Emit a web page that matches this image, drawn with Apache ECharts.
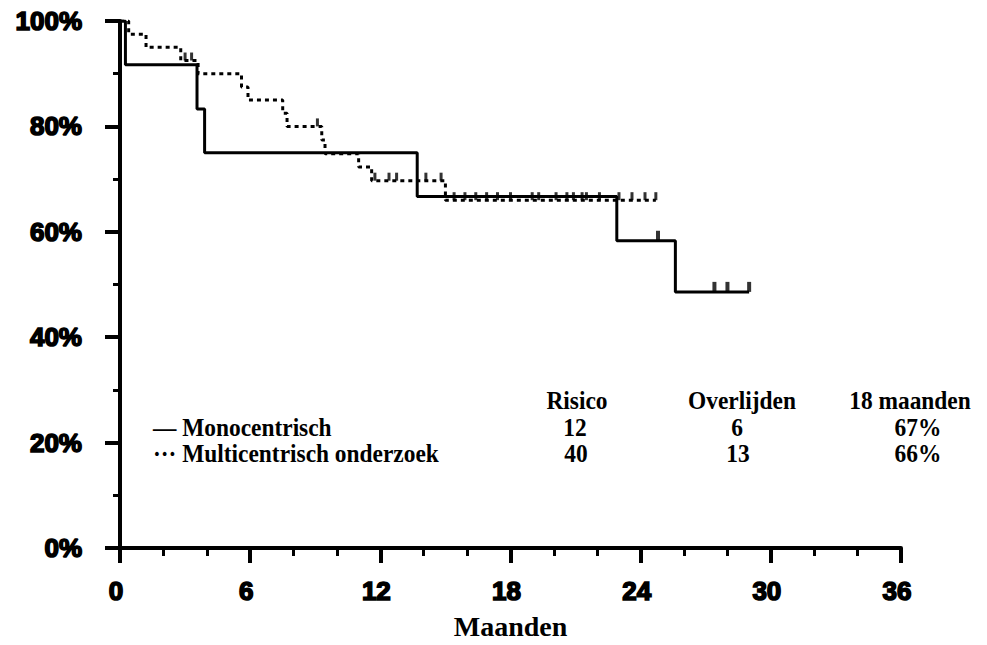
<!DOCTYPE html>
<html>
<head>
<meta charset="utf-8">
<script src="https://cdn.jsdelivr.net/npm/echarts@6/dist/echarts.min.js"></script>
<style>
html,body{margin:0;padding:0;background:#fff;}
#chart{width:987px;height:645px;}
</style>
</head>
<body>
<div id="chart"></div>
<script>
// Kaplan-Meier steps (months, % survival)
var monoTimes = [0, 0.25, 3.55, 3.9, 13.7, 22.9, 25.6, 29.0];
var monoSurv  = [100, 91.7, 83.3, 75.0, 66.7, 58.3, 48.6, 48.6];
var monoCensor = [24.8, 27.4, 28.0, 29.0];

var multiTimes = [0, 0.4, 1.2, 2.8, 3.6, 5.6, 5.9, 7.5, 7.7, 9.3, 9.45, 11.0, 11.6, 15.0, 24.7];
var multiSurv  = [100, 97.5, 95.0, 92.5, 90.0, 87.5, 85.0, 82.5, 80.0, 77.4, 74.8, 72.3, 69.7, 66.0, 66.0];
var multiCensor = [3.0, 3.3, 9.1, 11.75, 12.4, 12.75, 14.1, 14.8, 15.4, 15.9, 16.4, 16.9, 17.4, 18.0,
                   19.0, 19.3, 20.1, 20.6, 20.9, 21.3, 21.5, 22.1, 23.0, 23.6, 24.2, 24.7];

var xTicks = [0, 6, 12, 18, 24, 30, 36];
var yTicks = [0, 20, 40, 60, 80, 100];

var tableHeaders = ['Risico', 'Overlijden', '18 maanden'];
var groupNames = ['\u2014 Monocentrisch', '\u00b7\u00b7\u00b7 Multicentrisch onderzoek'];
var riskCounts = ['12', '40'];
var deathCounts = ['6', '13'];
var surv18 = ['67%', '66%'];

function pairs(t, s) { return t.map(function (v, i) { return [v, s[i]]; }); }
function stepValue(t, s, x) {
  var v = s[0];
  for (var i = 0; i < t.length; i++) { if (t[i] <= x) v = s[i]; }
  return v;
}
function censorPts(c, t, s) { return c.map(function (x) { return [x, stepValue(t, s, x)]; }); }

var chart = echarts.init(document.getElementById('chart'), null, { renderer: 'svg' });

var serif = '"Liberation Serif","Times New Roman",serif';
var tickFont = {
  fontFamily: '"Liberation Sans",Arial,sans-serif', fontWeight: 'bold', fontSize: 26,
  color: '#000', textBorderColor: '#000', textBorderWidth: 1.6
};

var colX = [577, 742, 910];
var valX = [[575, 576], [737, 738], [918, 918]];
var rowY = [400, 427, 453];
var tableFont = 'bold 26px ' + serif;
var sx = 0.9;

function txt(x, y, s, align) {
  return { type: 'text', x: x, y: y, scaleX: sx, scaleY: 1,
    style: { x: 0, y: 0, text: s, fill: '#000', font: tableFont, textAlign: align, textVerticalAlign: 'middle' } };
}

var graphics = [];
tableHeaders.forEach(function (h, i) { graphics.push(txt(colX[i], rowY[0], h, 'center')); });
groupNames.forEach(function (g, r) {
  graphics.push(txt(153, rowY[r + 1], g, 'left'));
  [riskCounts, deathCounts, surv18].forEach(function (arr, c) {
    graphics.push(txt(valX[c][r], rowY[r + 1], arr[r], 'center'));
  });
});

chart.setOption({
  animation: false,
  backgroundColor: '#fff',
  grid: { left: 120, right: 86, top: 21, bottom: 95, containLabel: false },
  xAxis: {
    type: 'value', min: 0, max: 36, interval: 6,
    name: 'Maanden', nameLocation: 'middle', nameGap: 64,
    nameTextStyle: { fontFamily: serif, fontWeight: 'bold', fontSize: 28, color: '#000' },
    axisLine: { show: true, lineStyle: { color: '#000', width: 4 } },
    axisTick: { show: true, length: 15, lineStyle: { color: '#000', width: 4 } },
    minorTick: { show: true, splitNumber: 3, length: 8, lineStyle: { color: '#000', width: 3 } },
    splitLine: { show: false }, minorSplitLine: { show: false },
    axisLabel: Object.assign({ margin: 30, padding: [0, 8, 0, 0],
      formatter: function (v) { return xTicks.indexOf(v) >= 0 ? String(v) : ''; } }, tickFont)
  },
  yAxis: {
    type: 'value', min: 0, max: 100, interval: 20,
    axisLine: { show: true, lineStyle: { color: '#000', width: 4 } },
    axisTick: { show: true, length: 15, lineStyle: { color: '#000', width: 4 } },
    minorTick: { show: true, splitNumber: 2, length: 7, lineStyle: { color: '#000', width: 3 } },
    splitLine: { show: false }, minorSplitLine: { show: false },
    axisLabel: Object.assign({ margin: 38,
      formatter: function (v) { return yTicks.indexOf(v) >= 0 ? v + '%' : ''; } }, tickFont)
  },
  graphic: graphics,
  series: [
    {
      name: 'Monocentrisch', type: 'line', step: 'end', symbol: 'none',
      data: pairs(monoTimes, monoSurv),
      lineStyle: { color: '#000', width: 3 }, z: 3
    },
    {
      name: 'Multicentrisch onderzoek', type: 'line', step: 'end', symbol: 'none',
      data: pairs(multiTimes, multiSurv),
      lineStyle: { color: '#000', width: 3, type: [4, 4] }, z: 2
    },
    {
      name: 'Monocentrisch gecensureerd', type: 'scatter', symbol: 'rect', symbolSize: [4, 10],
      symbolOffset: [0, -5], itemStyle: { color: '#000' },
      data: censorPts(monoCensor, monoTimes, monoSurv), z: 4
    },
    {
      name: 'Multicentrisch gecensureerd', type: 'scatter', symbol: 'rect', symbolSize: [3, 8],
      symbolOffset: [0, -4], itemStyle: { color: '#000' },
      data: censorPts(multiCensor, multiTimes, multiSurv), z: 4
    }
  ]
});
</script>
</body>
</html>
